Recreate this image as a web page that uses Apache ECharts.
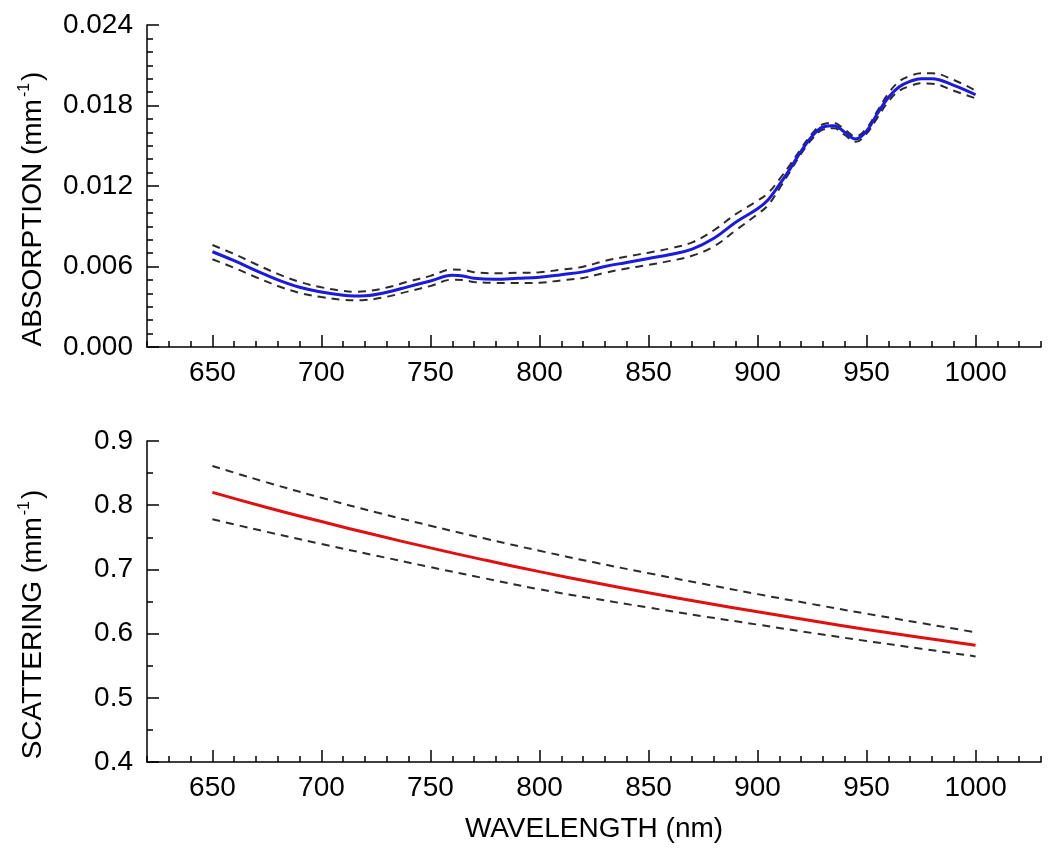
<!DOCTYPE html>
<html>
<head>
<meta charset="utf-8">
<script src="https://cdn.jsdelivr.net/npm/echarts@6/dist/echarts.min.js"></script>
<style>
html,body{margin:0;padding:0;background:#ffffff;}
#chart{width:1050px;height:860px;}
</style>
</head>
<body>
<div id="chart"></div>
<script>
// ---------- DATA ----------
const absWavelength = [650,660,670,680,690,700,710,715,720,730,740,750,760,765,770,780,790,800,810,820,830,840,850,860,870,880,890,900,905,910,915,920,925,930,935,940,945,950,955,960,965,970,975,980,990,1000];
const absMean  = [0.0071,0.00643,0.00569,0.0050,0.00445,0.0041,0.00385,0.0038,0.00382,0.00408,0.0045,0.00492,0.00534,0.00529,0.00512,0.00505,0.00512,0.0052,0.00539,0.0056,0.0060,0.0063,0.0066,0.0069,0.0073,0.0081,0.0093,0.0103,0.0110,0.0121,0.0133,0.0146,0.0157,0.0164,0.0165,0.0160,0.0155,0.0161,0.0174,0.0186,0.0194,0.0198,0.0200,0.0200,0.0195,0.0188];
const absUpper = [0.0076,0.00693,0.00617,0.00545,0.00485,0.00445,0.00418,0.00412,0.00415,0.00443,0.00488,0.0053,0.00578,0.00575,0.00558,0.0055,0.00553,0.00557,0.00577,0.00598,0.00642,0.00674,0.00703,0.00735,0.0078,0.0087,0.0099,0.0109,0.0115,0.0125,0.0136,0.0148,0.0159,0.0166,0.0167,0.0162,0.0157,0.0163,0.0176,0.0189,0.0198,0.0202,0.0204,0.0204,0.0199,0.0191];
const absLower = [0.00654,0.0059,0.0052,0.00455,0.00403,0.00372,0.00352,0.00348,0.0035,0.00375,0.00415,0.00455,0.00502,0.005,0.00485,0.00478,0.00477,0.00479,0.00497,0.00515,0.00553,0.00585,0.00612,0.00642,0.0068,0.0075,0.0087,0.0099,0.0106,0.0118,0.0131,0.0144,0.0155,0.0162,0.0163,0.0158,0.0153,0.0159,0.0171,0.0183,0.0191,0.01945,0.01965,0.01963,0.0191,0.01853];

const scatWavelength = [650,675,700,725,750,775,800,825,850,875,900,925,950,975,1000];
const scatMean  = [0.820,0.7965,0.7745,0.7535,0.7335,0.7145,0.6965,0.6795,0.6635,0.6485,0.634,0.620,0.6065,0.594,0.582];
const scatUpper = [0.861,0.8355,0.8115,0.789,0.768,0.748,0.729,0.711,0.694,0.6775,0.6615,0.646,0.631,0.6165,0.602];
const scatLower = [0.778,0.7585,0.7395,0.7215,0.7035,0.686,0.669,0.6545,0.6405,0.627,0.614,0.601,0.5885,0.5765,0.5645];

const xMajorTicks = [650,700,750,800,850,900,950,1000];
const absTitle = 'ABSORPTION (mm';
const scatTitle = 'SCATTERING (mm';
const xTitle = 'WAVELENGTH (nm)';

// ---------- CHART ----------
const pairs = (xs, ys) => xs.map((x, i) => [x, ys[i]]);
const FONT = "'Liberation Sans', Arial, sans-serif";
const black = '#000000';

function majorX(gridIndex, withName) {
  const ax = {
    type: 'value', gridIndex, min: 620, max: 1030,
    axisLine: { show: true, lineStyle: { color: black, width: 1.5 } },
    axisTick: { show: true, inside: true, length: 12, customValues: xMajorTicks, lineStyle: { color: black, width: 1.5 } },
    axisLabel: { show: true, customValues: xMajorTicks, fontSize: 28, fontFamily: FONT, color: black, margin: 12,
                 formatter: v => String(v) },
    splitLine: { show: false }
  };
  if (withName) {
    ax.name = xTitle;
    ax.nameLocation = 'middle';
    ax.nameGap = 53;
    ax.nameTextStyle = { fontSize: 28, fontFamily: FONT, color: black };
  }
  return ax;
}
function minorX(gridIndex) {
  return {
    type: 'value', gridIndex, min: 620, max: 1030, interval: 10,
    axisLine: { show: false },
    axisTick: { show: true, inside: true, length: 6, lineStyle: { color: black, width: 1.5 } },
    axisLabel: { show: false },
    splitLine: { show: false }
  };
}
function hiddenY(gridIndex) {
  return { type: 'value', gridIndex, min: 0, max: 1, show: false, splitLine: { show: false } };
}
function titleRich(text) {
  return {
    name: '{a|' + text + '}{s|-1}{a|)}',
    nameLocation: 'middle',
    nameGap: 98,
    nameTextStyle: {
      padding: [0, 46, 0, 0],
      rich: {
        a: { fontSize: 28, fontFamily: FONT, color: black, lineHeight: 32 },
        s: { fontSize: 16, fontFamily: FONT, color: black, verticalAlign: 'top', lineHeight: 32, padding: [0, 2, 14, 2] }
      }
    }
  };
}

const option = {
  backgroundColor: '#ffffff',
  animation: false,
  grid: [
    { left: 147, top: 25, width: 894, height: 322 },
    { left: 147, top: 25, width: 894, height: 322 },
    { left: 147, top: 441, width: 894, height: 321 },
    { left: 147, top: 441, width: 894, height: 321 }
  ],
  xAxis: [ majorX(0, false), minorX(1), majorX(2, true), minorX(3) ],
  yAxis: [
    Object.assign({
      type: 'value', gridIndex: 0, min: 0, max: 0.024, interval: 0.006,
      axisLine: { show: true, lineStyle: { color: black, width: 1.5 } },
      axisTick: { show: true, inside: true, length: 12, lineStyle: { color: black, width: 1.5 } },
      minorTick: { show: true, splitNumber: 6, length: 6, lineStyle: { color: black, width: 1.5 } },
      axisLabel: { fontSize: 28, fontFamily: FONT, color: black, margin: 14, formatter: v => v.toFixed(3) },
      splitLine: { show: false }
    }, titleRich(absTitle)),
    hiddenY(1),
    Object.assign({
      type: 'value', gridIndex: 2, min: 0.4, max: 0.9, interval: 0.1,
      axisLine: { show: true, lineStyle: { color: black, width: 1.5 } },
      axisTick: { show: true, inside: true, length: 12, lineStyle: { color: black, width: 1.5 } },
      minorTick: { show: true, splitNumber: 2, length: 6, lineStyle: { color: black, width: 1.5 } },
      axisLabel: { fontSize: 28, fontFamily: FONT, color: black, margin: 14, formatter: v => v.toFixed(1) },
      splitLine: { show: false }
    }, titleRich(scatTitle)),
    hiddenY(3)
  ],
  series: [
    { type: 'line', xAxisIndex: 0, yAxisIndex: 0, data: pairs(absWavelength, absUpper), smooth: 0.4, showSymbol: false,
      lineStyle: { color: '#2b2b2b', width: 2, type: [8, 6] } },
    { type: 'line', xAxisIndex: 0, yAxisIndex: 0, data: pairs(absWavelength, absLower), smooth: 0.4, showSymbol: false,
      lineStyle: { color: '#2b2b2b', width: 2, type: [8, 6] } },
    { type: 'line', xAxisIndex: 0, yAxisIndex: 0, data: pairs(absWavelength, absMean), smooth: 0.4, showSymbol: false,
      lineStyle: { color: '#1a1ae0', width: 3 } },
    { type: 'line', xAxisIndex: 2, yAxisIndex: 2, data: pairs(scatWavelength, scatUpper), smooth: true, showSymbol: false,
      lineStyle: { color: '#2b2b2b', width: 2, type: [8, 6] } },
    { type: 'line', xAxisIndex: 2, yAxisIndex: 2, data: pairs(scatWavelength, scatLower), smooth: true, showSymbol: false,
      lineStyle: { color: '#2b2b2b', width: 2, type: [8, 6] } },
    { type: 'line', xAxisIndex: 2, yAxisIndex: 2, data: pairs(scatWavelength, scatMean), smooth: true, showSymbol: false,
      lineStyle: { color: '#e01010', width: 3 } }
  ]
};

const chart = echarts.init(document.getElementById('chart'), null, { renderer: 'canvas' });
chart.setOption(option);
</script>
</body>
</html>
